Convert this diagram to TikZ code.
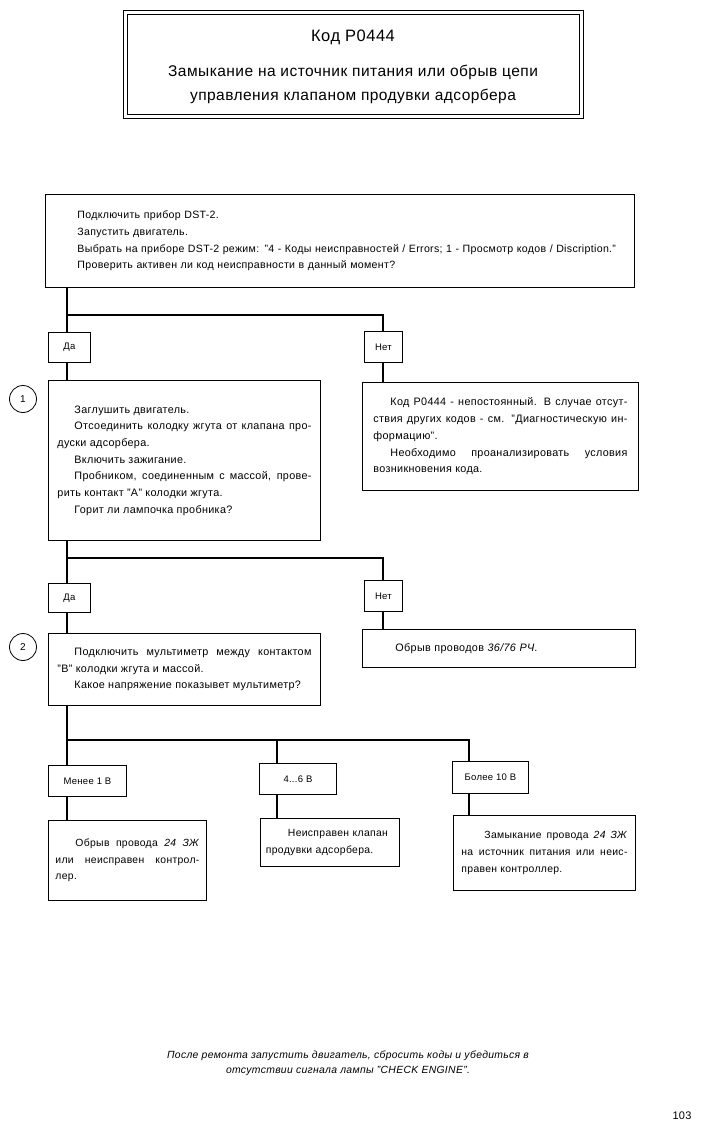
\documentclass[tikz,border=0pt]{standalone}
\usepackage{fontspec}
\setmainfont{Liberation Sans}[LetterSpace=3]
\usetikzlibrary{calc}
\begin{document}
\begin{tikzpicture}[x=1pt,y=-1pt,
  box/.style={draw, line width=0.9pt, anchor=north west, inner ysep=0pt,
    font=\fontsize{10.8}{16.7}\selectfont, align=justify},
  res/.style={box, font=\fontsize{10.4}{16.7}\selectfont},
  lab/.style={draw, line width=0.9pt, anchor=north west, inner sep=0pt,
    font=\fontsize{9.5}{11}\selectfont},
  conn/.style={line width=2.4pt},
  num/.style={draw, circle, line width=0.8pt, minimum size=27pt, inner sep=0pt,
    font=\fontsize{10}{11}\selectfont}
]
\useasboundingbox (0,0) rectangle (701,1126);
% title
\node[draw, line width=0.9pt, anchor=north west,
  minimum width=460pt, minimum height=108pt, inner sep=0pt] (title) at (123,10) {};
\draw[line width=0.9pt] ([shift={(4pt,-4pt)}]title.north west) rectangle ([shift={(-4pt,4pt)}]title.south east);
\node[font=\fontsize{16.5}{18}\selectfont] (t1) at (353,37) {Код P0444};
\node[font=\fontsize{15.5}{18}\selectfont] (t2) at (353,72) {Замыкание на источник питания или обрыв цепи};
\node[font=\fontsize{15.5}{18}\selectfont] (t3) at (353,96) {управления клапаном продувки адсорбера};
% start box
\node[box, align=left, text width=565pt, inner xsep=12pt, minimum height=93pt,
  font=\fontsize{10.6}{16.7}\selectfont] (st) at (45,194)
 {\hspace*{20pt}Подключить прибор DST-2.\\
  \hspace*{20pt}Запустить двигатель.\\
  \hspace*{20pt}Выбрать на приборе DST-2 режим: "4 - Коды неисправностей / Errors; 1 - Просмотр кодов / Discription."\\
  \hspace*{20pt}Проверить активен ли код неисправности в данный момент?};
\coordinate (b1) at (67,315);
\node[lab, minimum width=42pt, minimum height=30pt] (da1) at (48,332) {Да};
\node[lab, minimum width=38pt, minimum height=31pt] (net1) at (364,331) {Нет};
\coordinate (b1r) at (383,315);
\draw[conn] (st.south -| b1) -- (da1.north -| b1);
\draw[conn] (b1) -- (b1r) -- (net1.north -| b1r);
% step 1
\node[num] (c1) at (23,399) {1};
\node[box, text width=254pt, inner xsep=9pt, minimum height=160pt] (s1) at (48,380)
 {\parindent=17pt\relax\hspace*{17pt}%
  Заглушить двигатель.\par
  Отсоединить колодку жгута от клапана про-\linebreak дуски адсорбера.\par
  Включить зажигание.\par
  Пробником, соединенным с массой, прове-\linebreak рить контакт "А" колодки жгута.\par
  Горит ли лампочка пробника?};
\node[box, text width=254pt, inner xsep=11pt, minimum height=108pt] (n1) at (362,382)
 {\parindent=17pt\relax\hspace*{17pt}%
  Код P0444 - непостоянный. В случае отсут-\linebreak ствия других кодов - см. "Диагностическую ин-\linebreak формацию".\par
  Необходимо проанализировать условия\linebreak возникновения кода.};
\draw[conn] (da1.south -| b1) -- (s1.north -| b1);
\draw[conn] (net1.south -| b1r) -- (n1.north -| b1r);
% level 2
\coordinate (b2) at (67,558);
\coordinate (b2r) at (383,558);
\node[lab, minimum width=42pt, minimum height=29pt] (da2) at (48,583) {Да};
\node[lab, minimum width=38pt, minimum height=31pt] (net2) at (364,580) {Нет};
\draw[conn] (s1.south -| b2) -- (da2.north -| b2);
\draw[conn] (b2) -- (b2r) -- (net2.north -| b2r);
\node[num] (c2) at (23,647) {2};
\node[box, text width=254pt, inner xsep=9pt, minimum height=72pt] (s2) at (48,633)
 {\parindent=17pt\relax\hspace*{17pt}%
  Подключить мультиметр между контактом\linebreak "В" колодки жгута и массой.\par
  Какое напряжение показывет мультиметр?};
\node[box, align=left, text width=253pt, inner xsep=10pt, minimum height=38pt] (o2) at (362,629)
 {\hspace*{23pt}Обрыв проводов \textit{36/76 РЧ}.};
\draw[conn] (da2.south -| b2) -- (s2.north -| b2);
\draw[conn] (net2.south -| b2r) -- (o2.north -| b2r);
% level 3
\coordinate (b3) at (67,740);
\coordinate (b3m) at (277,740);
\coordinate (b3r) at (469,740);
\node[lab, minimum width=78pt, minimum height=31pt] (m1) at (48,765) {Менее 1 В};
\node[lab, minimum width=77pt, minimum height=31pt] (m2) at (259,763) {4...6 В};
\node[lab, minimum width=76pt, minimum height=32pt] (m3) at (452,761) {Более 10 В};
\draw[conn] (s2.south -| b3) -- (m1.north -| b3);
\draw[conn] (b3) -- (b3r) -- (m3.north -| b3r);
\draw[conn] (b3m) -- (m2.north -| b3m);
\node[res, text width=144pt, inner xsep=7pt, minimum height=80pt] (r1) at (48,820)
 {\parindent=20pt\relax\hspace*{20pt}%
  Обрыв провода \textit{24 ЗЖ}\linebreak или неисправен контрол-\linebreak лер.};
\node[res, align=left, text width=128pt, inner xsep=5.5pt, minimum height=48pt] (r2) at (260,818)
 {\hspace*{22pt}Неисправен клапан\\
  продувки адсорбера.};
\node[res, text width=166pt, inner xsep=8pt, minimum height=75pt] (r3) at (453,815)
 {\parindent=23pt\relax\hspace*{23pt}%
  Замыкание провода \textit{24 ЗЖ}\linebreak на источник питания или неис-\linebreak правен контроллер.};
\draw[conn] (m1.south -| b3) -- (r1.north -| b3);
\draw[conn] (m2.south -| b3m) -- (r2.north -| b3m);
\draw[conn] (m3.south -| b3r) -- (r3.north -| b3r);
% footer
\node[align=center, font=\fontsize{10.4}{15}\itshape] (foot) at (348,1063)
 {После ремонта запустить двигатель, сбросить коды и убедиться в\\
  отсутствии сигнала лампы "CHECK ENGINE".};
\node[font=\fontsize{11}{13}\selectfont] (pg) at (682,1116) {103};
\end{tikzpicture}
\end{document}
